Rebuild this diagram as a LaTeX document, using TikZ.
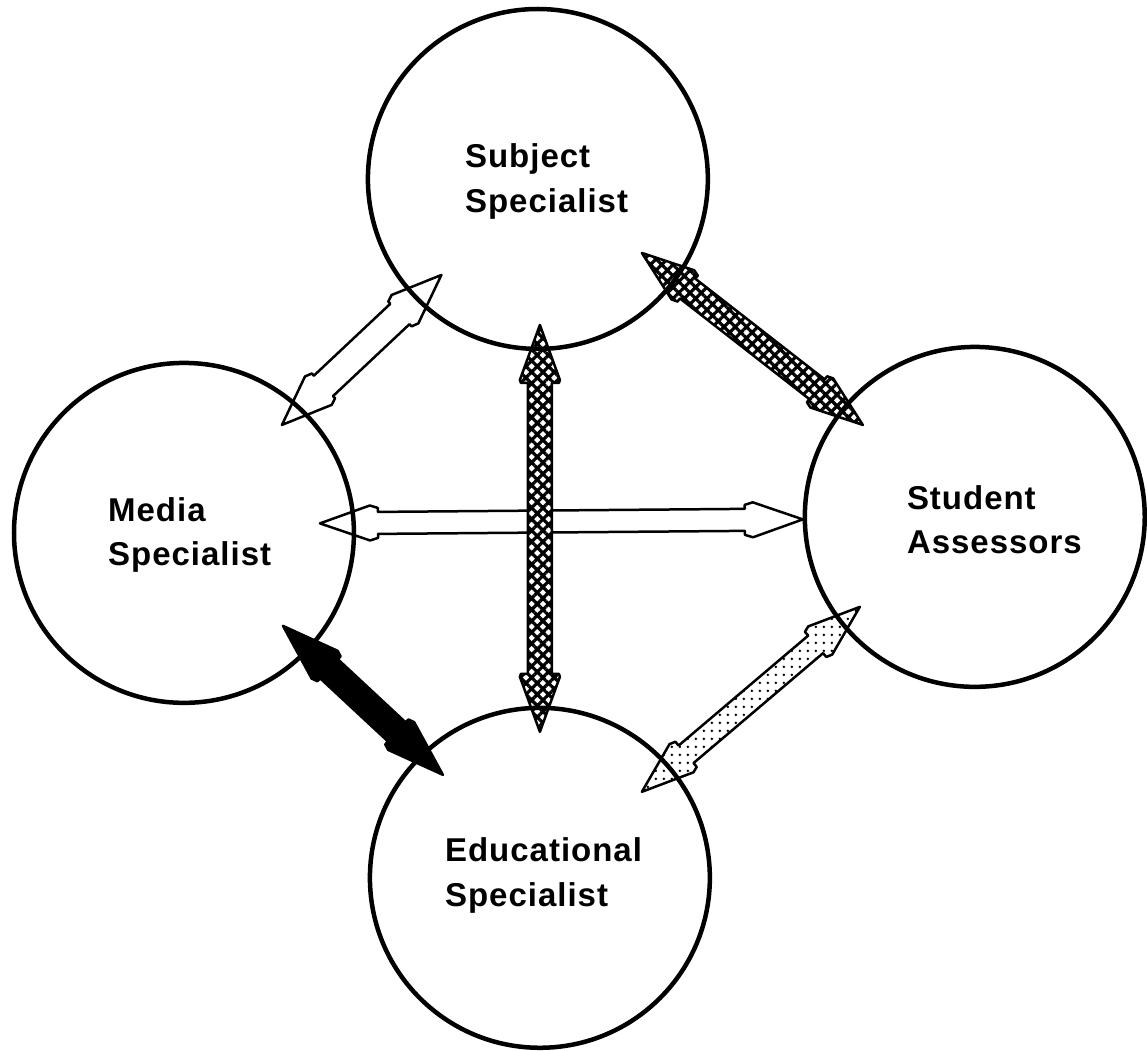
\documentclass[tikz,border=0pt]{standalone}
\usepackage{fontspec}
\setmainfont{Liberation Sans}
\newfontfamily\lblfont{Liberation Sans}[LetterSpace=3]
\usetikzlibrary{calc,patterns.meta}
\pgfdeclarelayer{fg}
\pgfsetlayers{main,fg}

% #1 style, #2 tip A, #3 tip B, #4 shaft half width, #5 head half width,
% #6 tip-to-head-corner, #7 tip-to-shaft, #8 half width of barb step
\newcommand\dblarrow[8]{%
  \path[#1] (#2)
  -- ($(#2)!#6!(#3)!#5!90:(#3)$)
  -- ($(#2)!#7!(#3)!#8!90:(#3)$)
  -- ($(#2)!#7!(#3)!#4!90:(#3)$)
  -- ($(#3)!#7!(#2)!#4!-90:(#2)$)
  -- ($(#3)!#7!(#2)!#8!-90:(#2)$)
  -- ($(#3)!#6!(#2)!#5!-90:(#2)$)
  -- (#3)
  -- ($(#3)!#6!(#2)!#5!90:(#2)$)
  -- ($(#3)!#7!(#2)!#8!90:(#2)$)
  -- ($(#3)!#7!(#2)!#4!90:(#2)$)
  -- ($(#2)!#7!(#3)!#4!-90:(#3)$)
  -- ($(#2)!#7!(#3)!#8!-90:(#3)$)
  -- ($(#2)!#6!(#3)!#5!-90:(#3)$)
  -- cycle;}

\tikzset{
  ring/.style={circle, draw, line width=4.5pt, minimum size=340pt, inner sep=0pt},
  lbl/.style={font=\lblfont\bfseries\fontsize{33}{45}\selectfont, align=left, anchor=north west, inner sep=0pt},
  arrowline/.style={draw, line width=2.5pt, line join=round},
  hollowarrow/.style={arrowline, fill=white},
  meshedarrow/.style={arrowline, preaction={fill=white}, pattern={Hatch[angle=45,distance=8pt,line width=3.2pt]}},
  solidarrow/.style={arrowline, fill=black},
  dottedarrow/.style={arrowline, preaction={fill=white}, pattern={Dots[distance=8pt,radius=1.4pt]}},
}

\begin{document}
\begin{tikzpicture}[x=1pt,y=-1pt]
  \fill[white] (0,0) rectangle (1147,1051);

  \begin{pgfonlayer}{fg}
    \node[ring] (subj)  at (538,179) {};
    \node[ring] (media) at (184,533) {};
    \node[ring] (stud)  at (975,517) {};
    \node[ring] (educ)  at (540,878) {};
    \node[lbl] (subjtxt)  at (465,143) {Subject\\Specialist};
    \node[lbl] (mediatxt) at (108,497) {Media\\Specialist};
    \node[lbl] (studtxt)  at (907,485) {Student\\Assessors};
    \node[lbl] (eductxt)  at (445,838) {Educational\\Specialist};
  \end{pgfonlayer}

  % arrow tips
  \coordinate (hA) at (320,523.5);
  \coordinate (hB) at (803,519.5);
  \coordinate (msA) at (282,425);
  \coordinate (msB) at (441.5,275);
  \coordinate (vA) at (540,325);
  \coordinate (vB) at (540,732);
  \coordinate (ssA) at (642,253);
  \coordinate (ssB) at (863,425);
  \coordinate (meA) at (283,626);
  \coordinate (meB) at (443,775);
  \coordinate (esA) at (642,792);
  \coordinate (esB) at (860,607);

  \dblarrow{hollowarrow}{hA}{hB}{11pt}{17.5pt}{50pt}{58pt}{15pt}
  \dblarrow{hollowarrow}{msA}{msB}{14pt}{19.5pt}{50pt}{57pt}{17pt}
  \dblarrow{meshedarrow}{vA}{vB}{12pt}{20pt}{55pt}{58pt}{19pt}
  \dblarrow{meshedarrow}{ssA}{ssB}{12.5pt}{18.5pt}{52pt}{58pt}{16.5pt}
  \dblarrow{solidarrow}{meA}{meB}{13pt}{19pt}{57pt}{63pt}{17pt}
  \dblarrow{dottedarrow}{esA}{esB}{11.5pt}{18.5pt}{52pt}{58pt}{16.5pt}
\end{tikzpicture}
\end{document}
